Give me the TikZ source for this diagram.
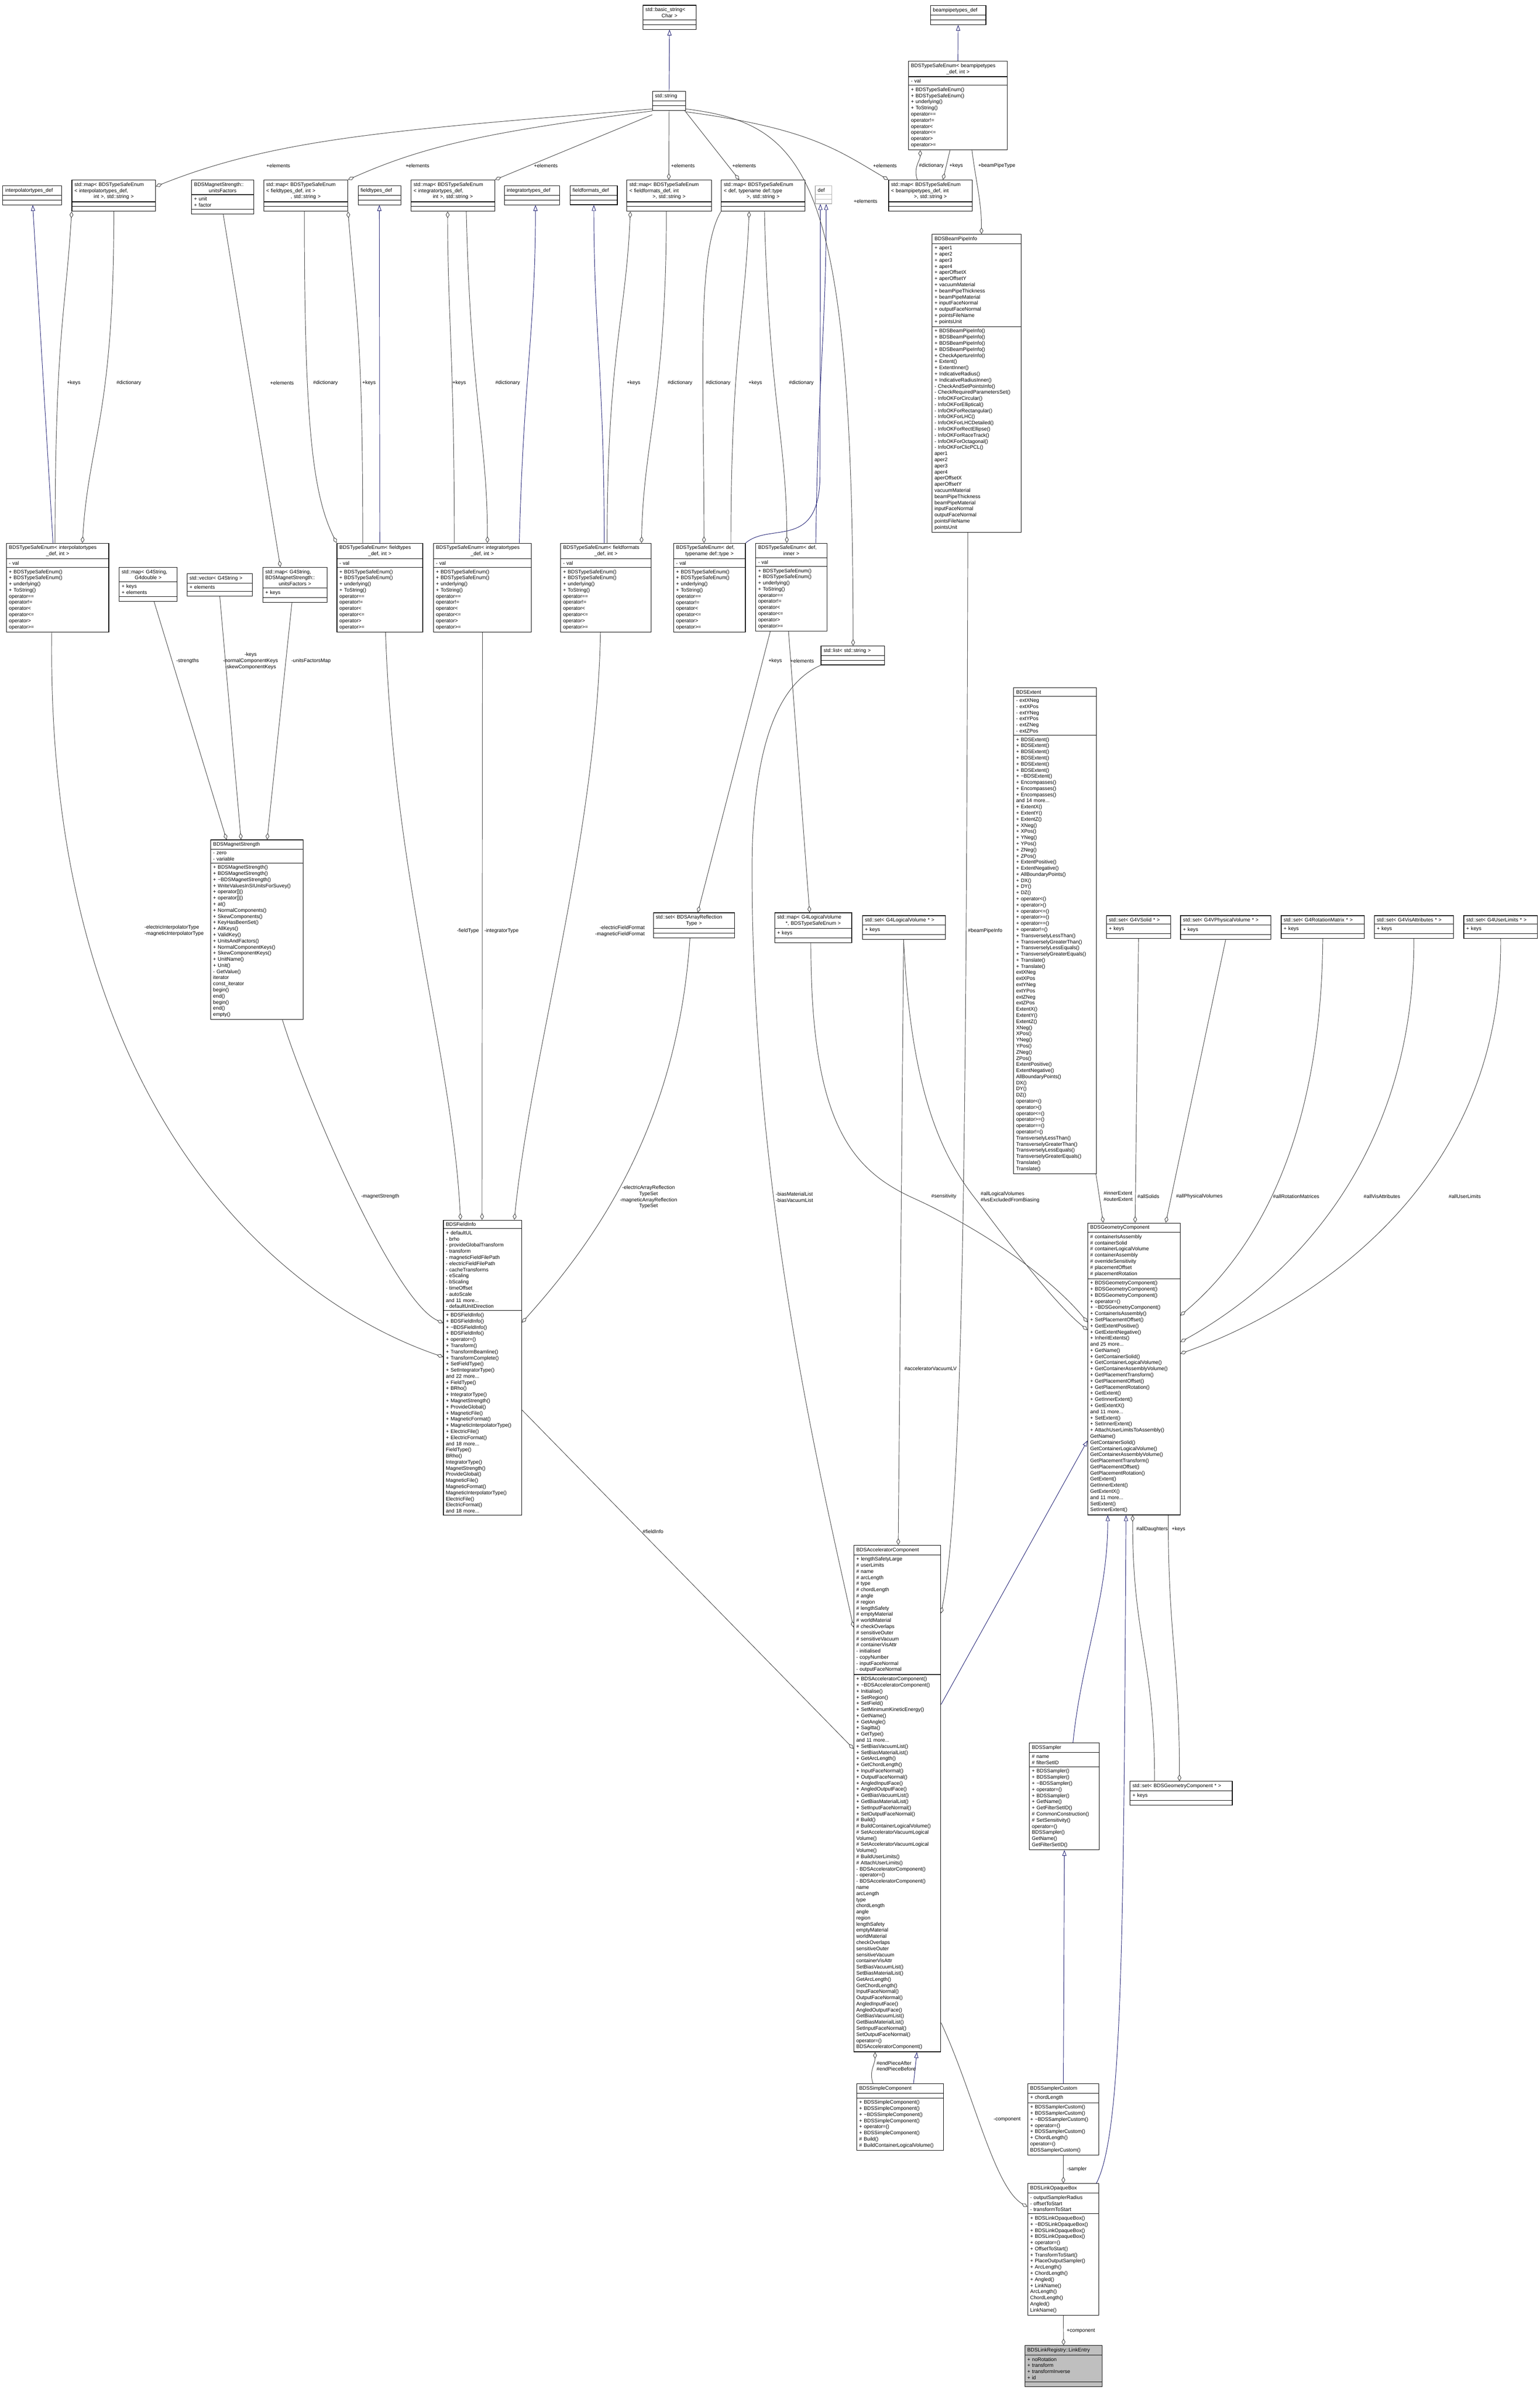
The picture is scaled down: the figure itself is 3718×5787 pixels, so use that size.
\documentclass[tikz,border=0pt]{standalone}
\usepackage{fontspec}
\newfontfamily\dxfont{Liberation Sans}
\usetikzlibrary{shapes.multipart,arrows.meta,calc,backgrounds}
\definecolor{edgegray}{HTML}{404040}
\definecolor{inhblue}{HTML}{191970}
\definecolor{entrygray}{HTML}{BFBFBF}
\newcommand{\dxsize}{\dxfont\fontsize{12.3}{14.8}\selectfont}
\newcommand{\cl}[1]{\hspace*{\fill}#1\hspace*{\fill}\null}
\newcommand{\enumops}{+ BDSTypeSafeEnum()\\+ BDSTypeSafeEnum()\\+ underlying()\\+ ToString()\\* operator==\\* operator!=\\* operator<\\* operator<=\\* operator>\\* operator>=}
\tikzset{
  cls/.style={draw=black, line width=1.4pt, fill=white, rectangle split, rectangle split parts=3,
    anchor=north west, align=left, inner xsep=6pt, inner ysep=5pt, font=\dxsize,
    rectangle split empty part height=10pt, rectangle split empty part depth=4pt},
  agg/.style={draw=edgegray, line width=1.1pt, -{Diamond[open, length=16pt, width=9pt, line width=1.1pt]}},
  inh/.style={draw=inhblue, line width=1.1pt, -{Triangle[open, length=14pt, width=10pt, line width=1.1pt]}},
  lbl/.style={font=\dxsize, inner sep=1pt, align=left}
}
\begin{document}
\begin{tikzpicture}[x=1pt, y=-1pt]
\useasboundingbox (0,0) rectangle (3718,5787);

% top row
\node[cls, text width=116pt] (bs) at (1552,12) {std::basic\_string<\\\cl{Char >}\nodepart{two}\nodepart{three}};
\node[cls, text width=68pt] (str) at (1575,220) {\centering std::string\nodepart{two}\nodepart{three}};
\node[cls, text width=122pt] (bpdef) at (2246,13) {\centering beampipetypes\_def\nodepart{two}\nodepart{three}};
\node[cls, text width=227pt] (ebp) at (2193,147) {BDSTypeSafeEnum< beampipetypes\\\cl{\_def, int >}\nodepart{two}- val\nodepart{three}\enumops};

% maps and defs
\node[cls, text width=130pt] (dip) at (6,448) {\centering interpolatortypes\_def\nodepart{two}\nodepart{three}};
\node[cls, text width=190pt] (mip) at (173,434) {std::map< BDSTypeSafeEnum\\< interpolatortypes\_def,\\\cl{int >, std::string >}\nodepart{two}\nodepart{three}};
\node[cls, text width=138pt] (uf) at (462,434) {BDSMagnetStrength::\\\cl{unitsFactors}\nodepart{two}+ unit\\+ factor\nodepart{three}};
\node[cls, text width=191pt] (mft) at (636,434) {std::map< BDSTypeSafeEnum\\< fieldtypes\_def, int >\\\cl{, std::string >}\nodepart{two}\nodepart{three}};
\node[cls, text width=91pt] (dft) at (864,448) {\centering fieldtypes\_def\nodepart{two}\nodepart{three}};
\node[cls, text width=190pt] (mit) at (992,434) {std::map< BDSTypeSafeEnum\\< integratortypes\_def,\\\cl{int >, std::string >}\nodepart{two}\nodepart{three}};
\node[cls, text width=122pt] (dit) at (1217,448) {\centering integratortypes\_def\nodepart{two}\nodepart{three}};
\node[cls, text width=102pt] (dff) at (1376,448) {\centering fieldformats\_def\nodepart{two}\nodepart{three}};
\node[cls, text width=192pt] (mff) at (1513,434) {std::map< BDSTypeSafeEnum\\< fieldformats\_def, int\\\cl{>, std::string >}\nodepart{two}\nodepart{three}};
\node[cls, text width=190pt] (mdt) at (1741,434) {std::map< BDSTypeSafeEnum\\< def, typename def::type\\\cl{>, std::string >}\nodepart{two}\nodepart{three}};
\node[cls, draw=black!30, text width=28pt] (def) at (1968,448) {\centering def\nodepart{two}\nodepart{three}};
\node[cls, text width=190pt] (mbp) at (2145,434) {std::map< BDSTypeSafeEnum\\< beampipetypes\_def, int\\\cl{>, std::string >}\nodepart{two}\nodepart{three}};

% enums
\node[cls, text width=235pt] (eip) at (15,1311) {BDSTypeSafeEnum< interpolatortypes\\\cl{\_def, int >}\nodepart{two}- val\nodepart{three}\enumops};
\node[cls, text width=195pt] (eft) at (813,1311) {BDSTypeSafeEnum< fieldtypes\\\cl{\_def, int >}\nodepart{two}- val\nodepart{three}\enumops};
\node[cls, text width=224pt] (eit) at (1046,1311) {BDSTypeSafeEnum< integratortypes\\\cl{\_def, int >}\nodepart{two}- val\nodepart{three}\enumops};
\node[cls, text width=207pt] (eff) at (1353,1311) {BDSTypeSafeEnum< fieldformats\\\cl{\_def, int >}\nodepart{two}- val\nodepart{three}\enumops};
\node[cls, text width=161pt] (edt) at (1626,1311) {BDSTypeSafeEnum< def,\\\cl{typename def::type >}\nodepart{two}- val\nodepart{three}\enumops};
\node[cls, text width=160pt] (edi) at (1824,1311) {BDSTypeSafeEnum< def,\\\cl{inner >}\nodepart{two}- val\nodepart{three}\enumops};

% containers of the magnet strength
\node[cls, text width=128pt] (mgd) at (287,1369) {std::map< G4String,\\\cl{G4double >}\nodepart{two}+ keys\\+ elements\nodepart{three}};
\node[cls, text width=146pt] (vec) at (451,1384) {\centering std::vector< G4String >\nodepart{two}+ elements\nodepart{three}};
\node[cls, text width=143pt] (muf) at (634,1369) {std::map< G4String,\\BDSMagnetStrength::\\\cl{unitsFactors >}\nodepart{two}+ keys\nodepart{three}};
\node[cls, text width=141pt] (lst) at (1982,1559) {\centering std::list< std::string >\nodepart{two}\nodepart{three}};

\node[cls, text width=211pt] (ms) at (508,2027) {\centering BDSMagnetStrength\nodepart{two}- zero\\- variable\nodepart{three}+ BDSMagnetStrength()\\+ BDSMagnetStrength()\\+ \textasciitilde BDSMagnetStrength()\\+ WriteValuesInSIUnitsForSuvey()\\+ operator[]()\\+ operator[]()\\+ at()\\+ NormalComponents()\\+ SkewComponents()\\+ KeyHasBeenSet()\\+ AllKeys()\\+ ValidKey()\\+ UnitsAndFactors()\\+ NormalComponentKeys()\\+ SkewComponentKeys()\\+ UnitName()\\+ Unit()\\- GetValue()\\* iterator\\* const\_iterator\\* begin()\\* end()\\* begin()\\* end()\\* empty()};

\node[cls, text width=184pt] (sar) at (1577,2203) {std::set< BDSArrayReflection\\\cl{Type >}\nodepart{two}\nodepart{three}};
\node[cls, text width=174pt] (mlv) at (1870,2203) {std::map< G4LogicalVolume\\\cl{*, BDSTypeSafeEnum >}\nodepart{two}+ keys\nodepart{three}};
\node[cls, text width=188pt] (slv) at (2082,2210) {\centering std::set< G4LogicalVolume * >\nodepart{two}+ keys\nodepart{three}};

\node[cls, text width=203pt] (bpi) at (2250,565) {\centering BDSBeamPipeInfo\nodepart{two}+ aper1\\+ aper2\\+ aper3\\+ aper4\\+ aperOffsetX\\+ aperOffsetY\\+ vacuumMaterial\\+ beamPipeThickness\\+ beamPipeMaterial\\+ inputFaceNormal\\+ outputFaceNormal\\+ pointsFileName\\+ pointsUnit\nodepart{three}+ BDSBeamPipeInfo()\\+ BDSBeamPipeInfo()\\+ BDSBeamPipeInfo()\\+ BDSBeamPipeInfo()\\+ CheckApertureInfo()\\+ Extent()\\+ ExtentInner()\\+ IndicativeRadius()\\+ IndicativeRadiusInner()\\- CheckAndSetPointsInfo()\\- CheckRequiredParametersSet()\\- InfoOKForCircular()\\- InfoOKForElliptical()\\- InfoOKForRectangular()\\- InfoOKForLHC()\\- InfoOKForLHCDetailed()\\- InfoOKForRectEllipse()\\- InfoOKForRaceTrack()\\- InfoOKForOctagonal()\\- InfoOKForClicPCL()\\* aper1\\* aper2\\* aper3\\* aper4\\* aperOffsetX\\* aperOffsetY\\* vacuumMaterial\\* beamPipeThickness\\* beamPipeMaterial\\* inputFaceNormal\\* outputFaceNormal\\* pointsFileName\\* pointsUnit};

\node[cls, text width=188pt] (ext) at (2447,1660) {\centering BDSExtent\nodepart{two}- extXNeg\\- extXPos\\- extYNeg\\- extYPos\\- extZNeg\\- extZPos\nodepart{three}+ BDSExtent()\\+ BDSExtent()\\+ BDSExtent()\\+ BDSExtent()\\+ BDSExtent()\\+ BDSExtent()\\+ \textasciitilde BDSExtent()\\+ Encompasses()\\+ Encompasses()\\+ Encompasses()\\and 14 more...\\+ ExtentX()\\+ ExtentY()\\+ ExtentZ()\\+ XNeg()\\+ XPos()\\+ YNeg()\\+ YPos()\\+ ZNeg()\\+ ZPos()\\+ ExtentPositive()\\+ ExtentNegative()\\+ AllBoundaryPoints()\\+ DX()\\+ DY()\\+ DZ()\\+ operator<()\\+ operator>()\\+ operator<=()\\+ operator>=()\\+ operator==()\\+ operator!=()\\+ TransverselyLessThan()\\+ TransverselyGreaterThan()\\+ TransverselyLessEquals()\\+ TransverselyGreaterEquals()\\+ Translate()\\+ Translate()\\* extXNeg\\* extXPos\\* extYNeg\\* extYPos\\* extZNeg\\* extZPos\\* ExtentX()\\* ExtentY()\\* ExtentZ()\\* XNeg()\\* XPos()\\* YNeg()\\* YPos()\\* ZNeg()\\* ZPos()\\* ExtentPositive()\\* ExtentNegative()\\* AllBoundaryPoints()\\* DX()\\* DY()\\* DZ()\\* operator<()\\* operator>()\\* operator<=()\\* operator>=()\\* operator==()\\* operator!=()\\* TransverselyLessThan()\\* TransverselyGreaterThan()\\* TransverselyLessEquals()\\* TransverselyGreaterEquals()\\* Translate()\\* Translate()};

% sets of the geometry component
\node[cls, text width=143pt] (ssol) at (2671,2210) {\centering std::set< G4VSolid * >\nodepart{two}+ keys\nodepart{three}};
\node[cls, text width=206pt] (spv) at (2850,2210) {\centering std::set< G4VPhysicalVolume * >\nodepart{two}+ keys\nodepart{three}};
\node[cls, text width=189pt] (srm) at (3093,2210) {\centering std::set< G4RotationMatrix * >\nodepart{two}+ keys\nodepart{three}};
\node[cls, text width=179pt] (sva) at (3318,2210) {\centering std::set< G4VisAttributes * >\nodepart{two}+ keys\nodepart{three}};
\node[cls, text width=166pt] (sul) at (3534,2210) {\centering std::set< G4UserLimits * >\nodepart{two}+ keys\nodepart{three}};

\node[cls, text width=177pt] (fi) at (1070,2945) {\centering BDSFieldInfo\nodepart{two}+ defaultUL\\- brho\\- provideGlobalTransform\\- transform\\- magneticFieldFilePath\\- electricFieldFilePath\\- cacheTransforms\\- eScaling\\- bScaling\\- timeOffset\\- autoScale\\and 11 more...\\- defaultUnitDirection\nodepart{three}+ BDSFieldInfo()\\+ BDSFieldInfo()\\+ \textasciitilde BDSFieldInfo()\\+ BDSFieldInfo()\\+ operator=()\\+ Transform()\\+ TransformBeamline()\\+ TransformComplete()\\+ SetFieldType()\\+ SetIntegratorType()\\and 22 more...\\+ FieldType()\\+ BRho()\\+ IntegratorType()\\+ MagnetStrength()\\+ ProvideGlobal()\\+ MagneticFile()\\+ MagneticFormat()\\+ MagneticInterpolatorType()\\+ ElectricFile()\\+ ElectricFormat()\\and 18 more...\\* FieldType()\\* BRho()\\* IntegratorType()\\* MagnetStrength()\\* ProvideGlobal()\\* MagneticFile()\\* MagneticFormat()\\* MagneticInterpolatorType()\\* ElectricFile()\\* ElectricFormat()\\and 18 more...};

\node[cls, text width=211pt] (gc) at (2626,2952) {\centering BDSGeometryComponent\nodepart{two}\# containerIsAssembly\\\# containerSolid\\\# containerLogicalVolume\\\# containerAssembly\\\# overrideSensitivity\\\# placementOffset\\\# placementRotation\nodepart{three}+ BDSGeometryComponent()\\+ BDSGeometryComponent()\\+ BDSGeometryComponent()\\+ operator=()\\+ \textasciitilde BDSGeometryComponent()\\+ ContainerIsAssembly()\\+ SetPlacementOffset()\\+ GetExtentPositive()\\+ GetExtentNegative()\\+ InheritExtents()\\and 25 more...\\+ GetName()\\+ GetContainerSolid()\\+ GetContainerLogicalVolume()\\+ GetContainerAssemblyVolume()\\+ GetPlacementTransform()\\+ GetPlacementOffset()\\+ GetPlacementRotation()\\+ GetExtent()\\+ GetInnerExtent()\\+ GetExtentX()\\and 11 more...\\+ SetExtent()\\+ SetInnerExtent()\\+ AttachUserLimitsToAssembly()\\* GetName()\\* GetContainerSolid()\\* GetContainerLogicalVolume()\\* GetContainerAssemblyVolume()\\* GetPlacementTransform()\\* GetPlacementOffset()\\* GetPlacementRotation()\\* GetExtent()\\* GetInnerExtent()\\* GetExtentX()\\and 11 more...\\* SetExtent()\\* SetInnerExtent()};

\node[cls, text width=198pt] (ac) at (2061,3730) {\centering BDSAcceleratorComponent\nodepart{two}+ lengthSafetyLarge\\\# userLimits\\\# name\\\# arcLength\\\# type\\\# chordLength\\\# angle\\\# region\\\# lengthSafety\\\# emptyMaterial\\\# worldMaterial\\\# checkOverlaps\\\# sensitiveOuter\\\# sensitiveVacuum\\\# containerVisAttr\\- initialised\\- copyNumber\\- inputFaceNormal\\- outputFaceNormal\nodepart{three}+ BDSAcceleratorComponent()\\+ \textasciitilde BDSAcceleratorComponent()\\+ Initialise()\\+ SetRegion()\\+ SetField()\\+ SetMinimumKineticEnergy()\\+ GetName()\\+ GetAngle()\\+ Sagitta()\\+ GetType()\\and 11 more...\\+ SetBiasVacuumList()\\+ SetBiasMaterialList()\\+ GetArcLength()\\+ GetChordLength()\\+ InputFaceNormal()\\+ OutputFaceNormal()\\+ AngledInputFace()\\+ AngledOutputFace()\\+ GetBiasVacuumList()\\+ GetBiasMaterialList()\\+ SetInputFaceNormal()\\+ SetOutputFaceNormal()\\\# Build()\\\# BuildContainerLogicalVolume()\\\# SetAcceleratorVacuumLogical\\Volume()\\\# SetAcceleratorVacuumLogical\\Volume()\\\# BuildUserLimits()\\\# AttachUserLimits()\\- BDSAcceleratorComponent()\\- operator=()\\- BDSAcceleratorComponent()\\* name\\* arcLength\\* type\\* chordLength\\* angle\\* region\\* lengthSafety\\* emptyMaterial\\* worldMaterial\\* checkOverlaps\\* sensitiveOuter\\* sensitiveVacuum\\* containerVisAttr\\* SetBiasVacuumList()\\* SetBiasMaterialList()\\* GetArcLength()\\* GetChordLength()\\* InputFaceNormal()\\* OutputFaceNormal()\\* AngledInputFace()\\* AngledOutputFace()\\* GetBiasVacuumList()\\* GetBiasMaterialList()\\* SetInputFaceNormal()\\* SetOutputFaceNormal()\\* operator=()\\* BDSAcceleratorComponent()};

\node[cls, text width=157pt] (sam) at (2485,4207) {\centering BDSSampler\nodepart{two}\# name\\\# filterSetID\nodepart{three}+ BDSSampler()\\+ BDSSampler()\\+ \textasciitilde BDSSampler()\\+ operator=()\\+ BDSSampler()\\+ GetName()\\+ GetFilterSetID()\\\# CommonConstruction()\\\# SetSensitivity()\\* operator=()\\* BDSSampler()\\* GetName()\\* GetFilterSetID()};
\node[cls, text width=235pt] (sgc) at (2728,4300) {\centering std::set< BDSGeometryComponent * >\nodepart{two}+ keys\nodepart{three}};
\node[cls, text width=198pt] (sc) at (2068,5030) {\centering BDSSimpleComponent\nodepart{two}\nodepart{three}+ BDSSimpleComponent()\\+ BDSSimpleComponent()\\+ \textasciitilde BDSSimpleComponent()\\+ BDSSimpleComponent()\\+ operator=()\\+ BDSSimpleComponent()\\\# Build()\\\# BuildContainerLogicalVolume()};
\node[cls, text width=160pt] (scu) at (2481,5030) {\centering BDSSamplerCustom\nodepart{two}+ chordLength\nodepart{three}+ BDSSamplerCustom()\\+ BDSSamplerCustom()\\+ \textasciitilde BDSSamplerCustom()\\+ operator=()\\+ BDSSamplerCustom()\\+ ChordLength()\\* operator=()\\* BDSSamplerCustom()};
\node[cls, text width=160pt] (lob) at (2481,5271) {\centering BDSLinkOpaqueBox\nodepart{two}- outputSamplerRadius\\- offsetToStart\\- transformToStart\nodepart{three}+ BDSLinkOpaqueBox()\\+ \textasciitilde BDSLinkOpaqueBox()\\+ BDSLinkOpaqueBox()\\+ BDSLinkOpaqueBox()\\+ operator=()\\+ OffsetToStart()\\+ TransformToStart()\\+ PlaceOutputSampler()\\+ ArcLength()\\+ ChordLength()\\+ Angled()\\+ LinkName()\\* ArcLength()\\* ChordLength()\\* Angled()\\* LinkName()};
\node[cls, fill=entrygray, text width=175pt] (le) at (2474,5662) {\centering BDSLinkRegistry::LinkEntry\nodepart{two}+ noRotation\\+ transform\\+ transformInverse\\+ id\nodepart{three}};

% labels
\node[lbl] (lE1) at (672,400) {+elements};
\node[lbl] (lE2) at (1008,400) {+elements};
\node[lbl] (lE3) at (1318,400) {+elements};
\node[lbl] (lE4) at (1649,400) {+elements};
\node[lbl] (lE5) at (1797,400) {+elements};
\node[lbl] (lE6) at (2137,400) {+elements};
\node[lbl] (lD0) at (2249,400) {\#dictionary};
\node[lbl] (lK0) at (2309,400) {+keys};
\node[lbl] (lBPT) at (2407,400) {+beamPipeType};
\node[lbl] (lE7) at (2090,486) {+elements};
\node[lbl] (lK1) at (178,924) {+keys};
\node[lbl] (lD1) at (311,924) {\#dictionary};
\node[lbl] (lE8) at (681,924) {+elements};
\node[lbl] (lD2) at (786,924) {\#dictionary};
\node[lbl] (lK2) at (891,924) {+keys};
\node[lbl] (lK3) at (1109,924) {+keys};
\node[lbl] (lD3) at (1226,924) {\#dictionary};
\node[lbl] (lK4) at (1530,924) {+keys};
\node[lbl] (lD4) at (1642,924) {\#dictionary};
\node[lbl] (lD5) at (1734,924) {\#dictionary};
\node[lbl] (lK5) at (1824,924) {+keys};
\node[lbl] (lD6) at (1935,924) {\#dictionary};
\node[lbl] (lStr) at (453,1596) {-strengths};
\node[lbl, align=center] (lKeys) at (605,1596) {-keys\\-normalComponentKeys\\-skewComponentKeys};
\node[lbl] (lUFM) at (751,1596) {-unitsFactorsMap};
\node[lbl] (lK6) at (1872,1596) {+keys};
\node[lbl] (lE9) at (1937,1596) {+elements};
\node[lbl, anchor=east] (lIT) at (493,2247) {-electricInterpolatorType\\-magneticInterpolatorType};
\node[lbl] (lFT) at (1130,2247) {-fieldType};
\node[lbl] (lInt) at (1211,2247) {-integratorType};
\node[lbl, anchor=east, align=right] (lFF) at (1558,2248) {-electricFieldFormat\\-magneticFieldFormat};
\node[lbl] (lBPI) at (2379,2247) {\#beamPipeInfo};
\node[lbl] (lMS) at (918,2889) {-magnetStrength};
\node[lbl, align=center] (lAR) at (1566,2890) {-electricArrayReflection\\TypeSet\\-magneticArrayReflection\\TypeSet};
\node[lbl, anchor=west] (lBias) at (1872,2890) {-biasMaterialList\\-biasVacuumList};
\node[lbl] (lSens) at (2279,2889) {\#sensitivity};
\node[lbl, anchor=west] (lLV) at (2367,2890) {\#allLogicalVolumes\\\#lvsExcludedFromBiasing};
\node[lbl] (lExt) at (2700,2888) {\#innerExtent\\\#outerExtent};
\node[lbl] (lSol) at (2773,2889) {\#allSolids};
\node[lbl] (lPV) at (2896,2889) {\#allPhysicalVolumes};
\node[lbl] (lRM) at (3130,2889) {\#allRotationMatrices};
\node[lbl] (lVA) at (3337,2889) {\#allVisAttributes};
\node[lbl] (lUL) at (3537,2889) {\#allUserLimits};
\node[lbl] (lAVL) at (2247,3304) {\#acceleratorVacuumLV};
\node[lbl] (lFI) at (1577,3697) {\#fieldInfo};
\node[lbl] (lAD) at (2782,3692) {\#allDaughters};
\node[lbl] (lK7) at (2846,3692) {+keys};
\node[lbl] (lEP) at (2164,4988) {\#endPieceAfter\\\#endPieceBefore};
\node[lbl] (lComp) at (2432,5117) {-component};
\node[lbl] (lSamp) at (2600,5237) {-sampler};
\node[lbl] (lComp2) at (2610,5627) {+component};

\begin{pgfonlayer}{background}
\fill[white] (0,0) rectangle (3718,5787);
% inheritance
\draw[inh] (str.north) -- (bs.south);
\draw[inh] (ebp.north) -- (bpdef.south);
\draw[inh] ($(eip.north west)+(113,0)$) -- ($(dip.south west)+(73,0)$);
\draw[inh] ($(eft.north west)+(104,0)$) -- ($(dft.south west)+(52,0)$);
\draw[inh] ($(eit.north west)+(208,0)$) .. controls +(10,-400) and +(0,300) .. ($(dit.south west)+(76,0)$);
\draw[inh] ($(eff.north west)+(106,0)$) .. controls +(0,-400) and +(0,300) .. ($(dff.south west)+(58,0)$);
\draw[inh] (edt.north east) .. controls (1860,1260) and (1978,1330) .. (1980,1150) -- ($(def.south west)+(13,0)$);
\draw[inh] ($(edi.north west)+(146,0)$) .. controls +(5,-400) and +(0,300) .. ($(def.south west)+(27,0)$);
\draw[inh] ($(ac.north east)+(0,385)$) -- ($(gc.north west)+(0,526)$);
\draw[inh] ($(sam.north west)+(106,0)$) .. controls +(20,-200) and +(0,200) .. ($(gc.south west)+(49,0)$);
\draw[inh] ($(lob.north east)+(-7,0)$) .. controls (2710,5150) and (2713,4700) .. ($(gc.south west)+(93,0)$);
\draw[inh] (scu.north) -- (sam.south);
\draw[inh] ($(sc.north west)+(138,0)$) -- ($(ac.south west)+(153,0)$);

% std::string elements
\draw[agg] ([yshift=-43pt]str.north west) .. controls +(-600,50) and +(300,-120) .. ($(mip.north east)+(0,16)$);
\draw[agg] ([yshift=-48pt]str.north west) .. controls +(-400,50) and +(180,-80) .. (mft.north east);
\draw[agg] ([yshift=-57pt]str.north west) -- (mit.north east);
\draw[agg] (str.south) -- ($(mff.north west)+(102,0)$);
\draw[agg] ($(str.south east)+(-3,0)$) -- ($(mdt.north west)+(44,0)$);
\draw[agg] ([yshift=-50pt]str.north east) .. controls +(300,40) and +(-120,-70) .. (mbp.north west);
\draw[agg] ([yshift=-43pt]str.north east) .. controls (1950,300) and (2060,420) .. ($(lst.north west)+(78,0)$);

% beam pipe types
\draw[agg] ($(mbp.north west)+(70,0)$) .. controls +(-10,-30) and +(0,25) .. ($(ebp.south west)+(29,0)$);
\draw[agg] ($(ebp.south west)+(101,0)$) -- ($(mbp.north west)+(132,0)$);
\draw[agg] ($(ebp.south west)+(154,0)$) .. controls +(10,80) and +(0,-80) .. ($(bpi.north west)+(120,0)$);

% enums and their maps
\draw[agg] ($(uf.south west)+(77,0)$) -- ($(muf.north west)+(43,0)$);
\draw[agg] ($(eip.north west)+(118,0)$) .. controls +(0,-500) and +(-15,250) .. (mip.south west);
\draw[agg] ($(mip.south west)+(102,0)$) .. controls +(0,500) and +(15,-250) .. ($(eip.north west)+(184,0)$);
\draw[agg] ($(mft.south west)+(99,0)$) .. controls +(0,500) and +(-60,-120) .. (eft.north west);
\draw[agg] ($(eft.north west)+(63,0)$) .. controls +(0,-500) and +(20,250) .. (mft.south east);
\draw[agg] ($(eit.north west)+(51,0)$) .. controls +(0,-450) and +(0,250) .. ($(mit.south west)+(89,0)$);
\draw[agg] ($(mit.south west)+(134,0)$) .. controls +(10,450) and +(0,-250) .. ($(eit.north west)+(131,0)$);
\draw[agg] ($(eff.north west)+(113,0)$) .. controls +(0,-450) and +(-10,250) .. ($(mff.south west)+(9,0)$);
\draw[agg] ($(mff.south west)+(96,0)$) .. controls +(0,450) and +(5,-250) .. ($(eff.north west)+(196,0)$);
\draw[agg] (mdt.south west) .. controls +(-60,100) and +(0,-400) .. ($(edt.north west)+(74,0)$);
\draw[agg] ($(edt.north west)+(139,0)$) .. controls +(0,-450) and +(-10,250) .. ($(mdt.south west)+(68,0)$);
\draw[agg] ($(mdt.south west)+(105,0)$) .. controls +(10,450) and +(0,-250) .. ($(edi.north west)+(76,0)$);

% magnet strength
\draw[agg] ($(mgd.south west)+(85,0)$) -- ($(ms.north west)+(39,0)$);
\draw[agg] (vec.south) -- ($(ms.north west)+(74,0)$);
\draw[agg] ($(muf.south west)+(71,0)$) -- ($(ms.north west)+(137,0)$);

% field info
\draw[agg] ($(eft.south west)+(118,0)$) .. controls +(20,600) and +(-20,-400) .. ($(fi.north west)+(42,0)$);
\draw[agg] ($(eit.south west)+(119,0)$) -- ($(fi.north west)+(94,0)$);
\draw[agg] ($(eff.south west)+(97,0)$) .. controls +(-10,500) and +(40,-400) .. ($(fi.north west)+(172,0)$);
\draw[agg] ($(ms.south west)+(174,0)$) .. controls (740,2650) and (950,3140) .. ($(fi.north west)+(0,249)$);
\draw[agg] ($(eip.south west)+(110,0)$) .. controls (110,2700) and (700,3150) .. ($(fi.north west)+(0,331)$);
\draw[agg] ($(sar.south west)+(89,0)$) .. controls +(-30,450) and +(180,-200) .. ($(fi.north east)+(0,248)$);

% middle sets
\draw[agg] ($(edi.south west)+(36,0)$) -- ($(sar.north west)+(108,0)$);
\draw[agg] ($(edi.south west)+(80,0)$) -- ($(mlv.north west)+(85,0)$);
\draw[agg] (lst.south west) .. controls (1880,1650) and (1816,1800) .. (1816,2100) .. controls (1816,2900) and (1990,3600) .. ($(ac.north west)+(0,199)$);
\draw[agg] ($(mlv.south west)+(88,0)$) .. controls (1958,2700) and (2050,2820) .. (2200,2890) .. controls (2400,2980) and (2550,3100) .. ($(gc.north west)+(0,240)$);
\draw[agg] ($(slv.south west)+(100,0)$) .. controls (2200,2650) and (2280,2800) .. (2360,2900) .. controls (2450,3020) and (2550,3150) .. ($(gc.north west)+(0,259)$);
\draw[agg] ($(slv.south west)+(100,0)$) -- ($(ac.north west)+(108,0)$);
\draw[agg] ($(bpi.south west)+(87,0)$) .. controls (2333,3000) and (2320,3650) .. ($(ac.north east)+(0,165)$);
\draw[agg] ($(fi.north east)+(0,459)$) -- ($(ac.north west)+(0,492)$);

% geometry component
\draw[agg] ($(ext.south east)+(-2,0)$) -- ($(gc.north west)+(38,0)$);
\draw[agg] (ssol.south) -- ($(gc.north west)+(115,0)$);
\draw[agg] (spv.south) -- ($(gc.north west)+(189,0)$);
\draw[agg] (srm.south) .. controls (3190,2800) and (3000,3050) .. ($(gc.north east)+(0,224)$);
\draw[agg] (sva.south) .. controls (3415,2850) and (3050,3130) .. ($(gc.north east)+(0,288)$);
\draw[agg] (sul.south) .. controls (3630,2900) and (3100,3180) .. ($(gc.north east)+(0,316)$);
\draw[agg] ($(sgc.north west)+(60,0)$) .. controls +(0,-300) and +(0,300) .. ($(gc.south west)+(109,0)$);
\draw[agg] ($(gc.south west)+(195,0)$) .. controls +(0,300) and +(0,-300) .. ($(sgc.north west)+(120,0)$);

% lower part
\draw[agg] ($(sc.north west)+(40,0)$) .. controls +(-10,-30) and +(0,30) .. ($(ac.south west)+(52,0)$);
\draw[agg] ($(ac.south east)+(0,-71)$) .. controls (2350,5050) and (2400,5280) .. ($(lob.north west)+(0,57)$);
\draw[agg] (scu.south) -- (lob.north);
\draw[agg] (lob.south) -- (le.north);
\end{pgfonlayer}
\end{tikzpicture}
\end{document}
